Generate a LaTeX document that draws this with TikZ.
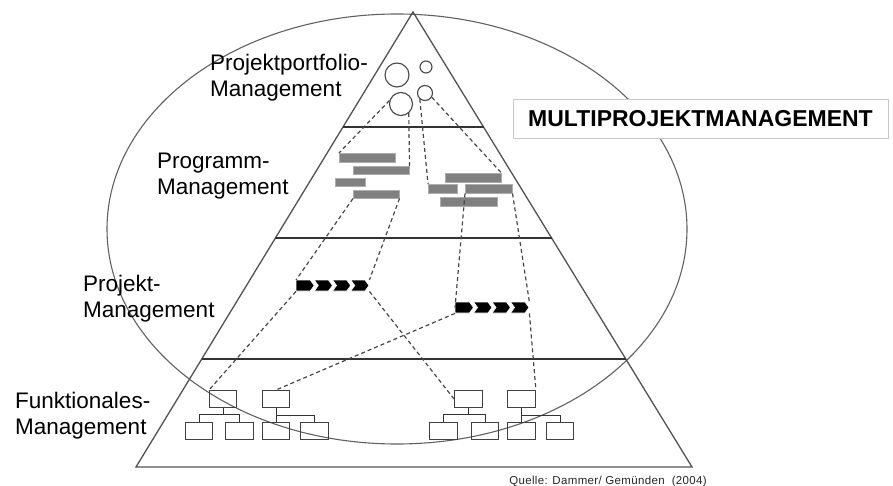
\documentclass[tikz,border=0pt]{standalone}
\usepackage{fontspec}
\setmainfont{Liberation Sans}
\usetikzlibrary{calc}
\begin{document}
\begin{tikzpicture}[x=1pt,y=-1pt,
  frame/.style={draw=black!68, line width=1.3pt},
  ell/.style={draw=black!62, line width=1.1pt},
  level/.style={draw=black!80, line width=1.2pt},
  link/.style={draw=black!72, line width=1.2pt, dash pattern=on 4pt off 3pt},
  bar/.style={fill=black!50, draw=black!32, line width=0.5pt, inner sep=0, anchor=north west, minimum height=9pt},
  orgbox/.style={draw=black!75, line width=0.9pt, inner sep=0, anchor=north west, minimum width=27pt, minimum height=17pt},
  tie/.style={draw=black!80, line width=0.9pt},
  pf/.style={draw=black!72, line width=1.1pt, circle, inner sep=0},
  lbl/.style={font=\fontsize{22.5}{26}\selectfont, align=left, anchor=west, inner sep=0},
  chev/.style={fill=black, draw=white, line width=0.7pt, line join=miter},
  slot/.style={inner sep=0, anchor=north west, minimum height=11pt}
]
\useasboundingbox (0,0) rectangle (893,486);

% ellipse and pyramid
\draw[ell] (397,229) ellipse [x radius=290pt, y radius=215pt];
\coordinate (apex) at (413,12);
\coordinate (bl) at (136,467);
\coordinate (br) at (692,467);
\draw[frame] (apex) -- (br) -- (bl) -- cycle;
\draw[level] ($(apex)!0.2527!(bl)$) -- ($(apex)!0.2527!(br)$);
\draw[level] ($(apex)!0.4967!(bl)$) -- ($(apex)!0.4967!(br)$);
\draw[level] ($(apex)!0.7626!(bl)$) -- ($(apex)!0.7626!(br)$);

% portfolio circles
\node[pf, minimum size=24pt] (p1) at (397,75) {};
\node[pf, minimum size=12pt] (p2) at (426,67) {};
\node[pf, minimum size=23pt] (p3) at (401,104) {};
\node[pf, minimum size=15pt] (p4) at (425,93) {};

% program bars
\node[bar, minimum width=56pt] (bA) at (339,153) {};
\node[bar, minimum width=56pt, minimum height=8pt] (bB) at (353,166) {};
\node[bar, minimum width=30pt, minimum height=8pt] (bC) at (335,178) {};
\node[bar, minimum width=46pt, minimum height=8pt] (bD) at (353,190) {};
\node[bar, minimum width=56pt] (bE) at (445,173) {};
\node[bar, minimum width=29pt] (bF) at (428,184) {};
\node[bar, minimum width=47pt] (bG) at (465,184) {};
\node[bar, minimum width=57pt] (bH) at (440,197) {};

% project arrows
\node[slot, minimum width=73pt] (a1) at (296,280) {};
\path[chev] (a1.north west) -- ++(14.25,0) -- ++(4,5.5) -- ++(-4,5.5) -- ++(-14.25,0) -- cycle;
\foreach \i in {1,2,3}
  \path[chev] ($(a1.north west)+(\i*18.25,0)$) -- ++(14.25,0) -- ++(4,5.5) -- ++(-4,5.5) -- ++(-14.25,0) -- ++(4,-5.5) -- cycle;
\node[slot, minimum width=74pt] (a2) at (455,302) {};
\path[chev] (a2.north west) -- ++(14.5,0) -- ++(4,5.5) -- ++(-4,5.5) -- ++(-14.5,0) -- cycle;
\foreach \i in {1,2,3}
  \path[chev] ($(a2.north west)+(\i*18.5,0)$) -- ++(14.5,0) -- ++(4,5.5) -- ++(-4,5.5) -- ++(-14.5,0) -- ++(4,-5.5) -- cycle;

% org charts
\node[orgbox] (t1) at (209,390) {};
\node[orgbox] (c11) at (185,422) {};
\node[orgbox, minimum width=28pt] (c12) at (225,422) {};
\draw[tie] (t1.south) -- ++(0,7) coordinate (j1);
\draw[tie] (c11.north) |- (j1) -| (c12.north);

\node[orgbox] (t2) at (262,390) {};
\node[orgbox] (c21) at (262,422) {};
\node[orgbox, minimum width=28pt] (c22) at (300,422) {};
\draw[tie] (t2.south) -- (c21.north);
\coordinate (j2) at ($(t2.south)!0.5!(c21.north)$);
\draw[tie] (j2) -| (c22.north);

\node[orgbox, minimum width=28pt] (t3) at (454,390) {};
\node[orgbox, minimum width=28pt] (c31) at (429,422) {};
\node[orgbox] (c32) at (471,422) {};
\draw[tie] (t3.south) -- ++(0,7) coordinate (j3);
\draw[tie] (c31.north) |- (j3) -| (c32.north);

\node[orgbox, minimum width=28pt] (t4) at (507,390) {};
\node[orgbox, minimum width=28pt] (c41) at (507,422) {};
\node[orgbox] (c42) at (546,422) {};
\draw[tie] (t4.south) -- (c41.north);
\coordinate (j4) at ($(t4.south)!0.5!(c41.north)$);
\draw[tie] (j4) -| (c42.north);

% dashed links
\draw[link] (p3.163) -- (bA.north west);
\draw[link] (p3.-50) -- (bB.north east);
\draw[link] (p4.-130) -- (bF.north west);
\draw[link] (p4.-32) -- (bE.north east);
\draw[link] (bD.south west) -- (a1.north west);
\draw[link] (bD.south east) -- (a1.north east);
\draw[link] (bG.south west) -- (a2.west);
\draw[link] (bG.south east) -- (a2.north east);
\draw[link] (a1.south west) -- (t1.north west);
\draw[link] (a1.south east) -- (t3.west);
\draw[link] (a2.south west) -- (t2.north);
\draw[link] (a2.south east) -- (t4.north east);

% level labels
\node[lbl] (l1) at (210,78) {Projektportfolio-\\Management};
\node[lbl] (l2) at (157,176) {Programm-\\Management};
\node[lbl] (l3) at (83,299) {Projekt-\\Management};
\node[lbl] (l4) at (15,416) {Funktionales-\\Management};

% title
\node[draw=black!22, fill=white, line width=0.6pt, minimum width=375pt, minimum height=39pt, inner sep=0,
      font=\bfseries\fontsize{23}{27}\selectfont] (title) at (700.5,118.5) {MULTIPROJEKTMANAGEMENT};

% source
\node[font=\fontsize{11.5}{13}\selectfont\addfontfeature{LetterSpace=3}, text=black!85, anchor=base, inner sep=0] (src) at (608,484) {Quelle: Dammer/ Gemünden \ (2004)};
\end{tikzpicture}
\end{document}
